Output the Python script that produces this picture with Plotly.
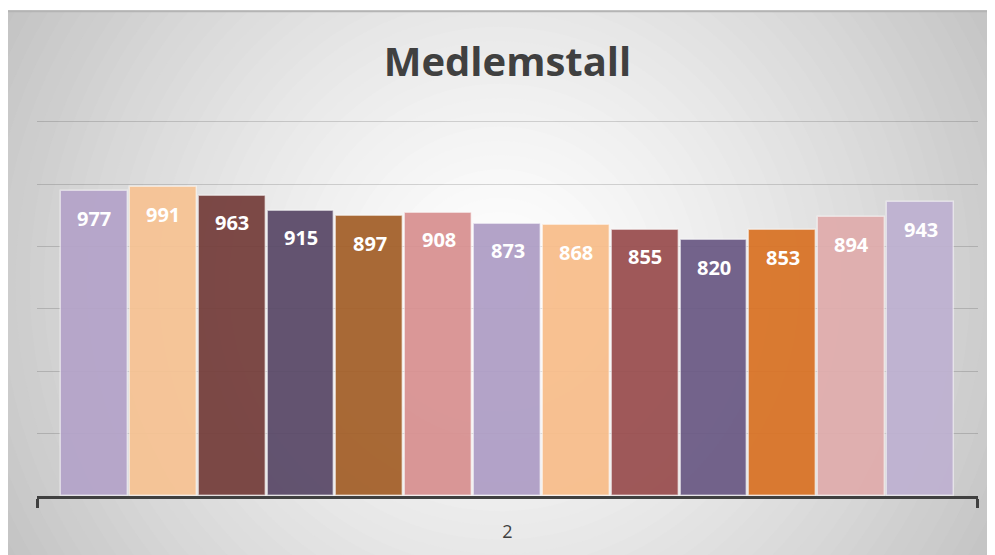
import plotly.graph_objects as go

# ---- data ----
category_label = "2"
series_index = list(range(13))
values = [977, 991, 963, 915, 897, 908, 873, 868, 855, 820, 853, 894, 943]
bar_colors = ["#b4a3c9", "#f7c393", "#743d3a", "#594867", "#a35f28", "#d89090",
              "#ae9dc5", "#f8bd8a", "#994d4e", "#6a5984", "#d97224", "#e0acac", "#beb1d1"]
title_text = "Medlemstall"
grid_values = [200, 400, 600, 800, 1000, 1200]

OFF = 8  # page body margin
W, H = 995 - OFF, 555 - OFF
# plot area in reference page pixels
L_PX, R_PX, T_PX, B_PX = 37, 978, 119, 500
PX_PER_UNIT = 378 / 1200
Y_TOP = (B_PX - T_PX) / PX_PER_UNIT
ML, MR, MT, MB = L_PX - OFF, 995 - R_PX, T_PX - OFF, 555 - B_PX
PW, PH = W - ML - MR, H - MT - MB


def px2paper_x(px):
    return (px - L_PX) / PW


def px2paper_y(py):
    return (B_PX - py) / PH


shapes = []
# base frame
shapes.append(dict(type="rect", xref="paper", yref="paper", layer="below",
                   x0=px2paper_x(7), x1=px2paper_x(1000), y0=px2paper_y(560), y1=px2paper_y(9),
                   fillcolor="#c2c2c2", line=dict(width=0)))
# radial gradient approximation
cx, cy = 500, 285
n = 40
rmax = 570
for k in range(n):
    r = rmax * (1 - k / n)
    t = r / rmax
    g = int(round(255 - (255 - 195) * t ** 1.3))
    shapes.append(dict(type="circle", layer="below",
                       xref="paper", yref="paper",
                       xsizemode="pixel", ysizemode="pixel",
                       xanchor=px2paper_x(cx), yanchor=px2paper_y(cy),
                       x0=-r, x1=r, y0=-r, y1=r,
                       fillcolor=f"rgb({g},{g},{g})", line=dict(width=0)))
# white outer strips
shapes.append(dict(type="rect", xref="paper", yref="paper", layer="below",
                   x0=px2paper_x(-50), x1=px2paper_x(1050), y0=px2paper_y(9), y1=px2paper_y(-100),
                   fillcolor="white", line=dict(width=0)))
shapes.append(dict(type="rect", xref="paper", yref="paper", layer="below",
                   x0=px2paper_x(-100), x1=px2paper_x(7), y0=px2paper_y(600), y1=px2paper_y(-100),
                   fillcolor="white", line=dict(width=0)))
# top border of frame
shapes.append(dict(type="line", xref="paper", yref="paper", layer="below",
                   x0=px2paper_x(7), x1=px2paper_x(1000), y0=px2paper_y(10), y1=px2paper_y(10),
                   line=dict(color="#b4b4b4", width=2)))

fig = go.Figure()
fig.add_trace(go.Bar(
    x=series_index, y=values, width=0.97,
    marker=dict(color=bar_colors, opacity=0.93,
                line=dict(color="rgba(255,255,255,0.55)", width=1.5)),
    hoverinfo="y", showlegend=False,
))

annotations = []
for i, v in zip(series_index, values):
    annotations.append(dict(x=i, y=v, xref="x", yref="y", text=f"<b>{v}</b>",
                            showarrow=False, yshift=-27,
                            font=dict(family="Open Sans", size=20, color="white")))

fig.update_layout(
    width=W, height=H,
    margin=dict(l=ML, r=MR, t=MT, b=MB, pad=0),
    paper_bgcolor="white",
    plot_bgcolor="rgba(0,0,0,0)",
    title=dict(text=f"<b>{title_text}</b>", x=0.5, xanchor="center", xref="paper",
               y=1 - (62 - OFF) / H, yanchor="middle",
               font=dict(family="Open Sans", size=40, color="#404040")),
    shapes=shapes,
    annotations=annotations,
    xaxis=dict(range=[-0.835, 12.835], tickvals=[6], ticktext=[category_label],
               ticks="", showgrid=False, zeroline=False,
               showline=True, linecolor="#404040", linewidth=3,
               ticklabelstandoff=17,
               tickfont=dict(family="Open Sans", size=18, color="#404040"),
               minor=dict(tickvals=[-0.83, 12.83], ticks="outside", ticklen=9,
                          tickwidth=3, tickcolor="#404040", showgrid=False),
               fixedrange=True),
    yaxis=dict(range=[0, Y_TOP], tickvals=grid_values,
               showticklabels=False, showgrid=True,
               gridcolor="rgba(0,0,0,0.15)", gridwidth=1, zeroline=False, showline=False,
               fixedrange=True),
    bargap=0,
)

fig.write_html("out.html")
